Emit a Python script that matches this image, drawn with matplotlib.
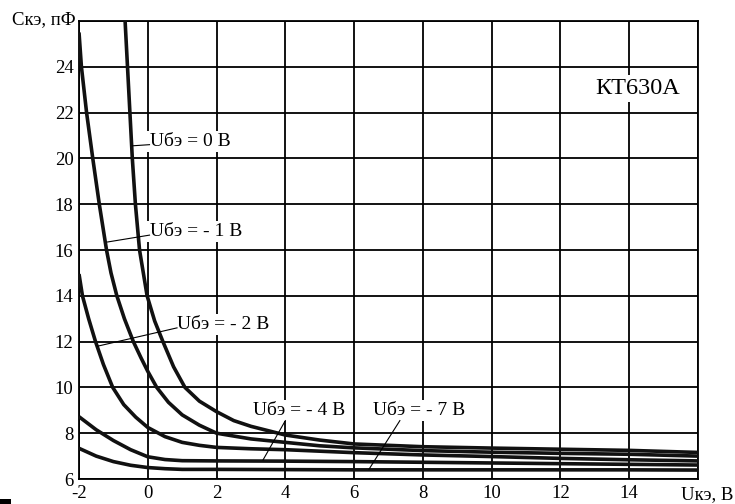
import matplotlib
matplotlib.use('Agg')
import matplotlib.pyplot as plt
from matplotlib.patches import Rectangle

plt.rcParams['font.family'] = ['Liberation Serif', 'DejaVu Serif']

# curves C_ke(U_ke) for different U_be
x_0 = [-0.66, -0.59, -0.52, -0.45, -0.36, -0.24, -0.13, -0.02, 0.2, 0.44, 0.75, 1.08,
       1.5, 2, 2.5, 3, 4, 5, 6, 8, 10, 12, 14, 16]
y_0 = [26, 24, 22, 20, 18, 16, 15, 14, 12.9, 12, 10.9, 10,
       9.4, 8.94, 8.55, 8.3, 7.92, 7.7, 7.53, 7.41, 7.35, 7.3, 7.25, 7.16]

x_1 = [-2, -1.93, -1.78, -1.6, -1.41, -1.2, -1.07, -0.9, -0.68, -0.42, -0.2, 0, 0.26,
       0.6, 1, 1.5, 2, 3, 4, 5, 6, 8, 10, 12, 14, 16]
y_1 = [25.5, 24, 22, 20, 18, 16, 15, 14, 13, 12, 11.3, 10.7, 10,
       9.35, 8.8, 8.35, 8.0, 7.75, 7.6, 7.45, 7.36, 7.24, 7.17, 7.12, 7.08, 7.0]

x_2 = [-2, -1.9, -1.72, -1.52, -1.29, -1.02, -0.7, -0.35, 0, 0.5, 1, 1.5, 2, 3, 4, 6,
       8, 10, 12, 14, 16]
y_2 = [14.95, 14, 13, 12, 11, 10, 9.25, 8.7, 8.25, 7.85, 7.6, 7.47, 7.38, 7.32, 7.28, 7.15,
       7.05, 6.98, 6.9, 6.84, 6.79]

x_4 = [-2, -1.5, -1, -0.5, 0, 0.5, 1, 2, 4, 6, 8, 10, 12, 14, 16]
y_4 = [8.72, 8.15, 7.68, 7.28, 6.97, 6.85, 6.8, 6.79, 6.78, 6.76, 6.73, 6.7, 6.67, 6.64, 6.61]

x_7 = [-2, -1.5, -1, -0.5, 0, 0.5, 1, 2, 4, 6, 8, 10, 12, 14, 16]
y_7 = [7.34, 7.0, 6.76, 6.6, 6.5, 6.45, 6.42, 6.42, 6.41, 6.4, 6.4, 6.4, 6.4, 6.4, 6.39]

curves = [(x_0, y_0), (x_1, y_1), (x_2, y_2), (x_4, y_4), (x_7, y_7)]

x_ticks = [-2, 0, 2, 4, 6, 8, 10, 12, 14]
y_ticks = [6, 8, 10, 12, 14, 16, 18, 20, 22, 24]

# label text, text position, leader end on the curve
labels = [
    ('Uбэ = 0 В', (0.05, 20.75), (-0.45, 20.55)),
    ('Uбэ = - 1 В', (0.05, 16.8), (-1.17, 16.35)),
    ('Uбэ = - 2 В', (0.85, 12.75), (-1.46, 11.8)),
    ('Uбэ = - 4 В', (3.05, 9.0), (3.35, 6.83)),
    ('Uбэ = - 7 В', (6.55, 9.0), (6.43, 6.42)),
]
leader_starts = [None, None, None, (4.0, 8.55), (7.33, 8.55)]

fig = plt.figure(figsize=(7.35, 5.04), dpi=100)
ax = fig.add_axes([0.1075, 0.0496, 0.9497 - 0.1075, 0.9583 - 0.0496])

ax.set_xlim(-2, 16)
ax.set_ylim(6, 26)
ax.set_xticks(range(-2, 17, 2))
ax.set_yticks(range(6, 27, 2))
ax.grid(True, color='black', linewidth=1.3, zorder=1)
ax.set_axisbelow(True)
for s in ax.spines.values():
    s.set_linewidth(1.3)
ax.tick_params(length=0, pad=4, labelsize=13.5)
ax.set_xticklabels([str(t) for t in x_ticks] + [''])
ax.set_yticklabels([str(t) for t in y_ticks] + [''])

for xs, ys in curves:
    ax.plot(xs, ys, color='#111111', linewidth=2.6, solid_joinstyle='round',
            solid_capstyle='butt', zorder=3, clip_on=True)

box = dict(facecolor='white', edgecolor='none', pad=1.5)
for (txt, tpos, end), start in zip(labels, leader_starts):
    ax.text(tpos[0], tpos[1], txt, fontsize=14, ha='left', va='center',
            bbox=box, zorder=4)
    if start is None:
        start = (tpos[0], tpos[1] - 0.15)
    ax.plot([start[0], end[0]], [start[1], end[1]], color='black',
            linewidth=0.8, zorder=4)

ax.text(14.25, 23.05, 'КТ630А', fontsize=17.5, ha='center', va='center',
        bbox=dict(facecolor='white', edgecolor='none', pad=2), zorder=4)

ax.text(-2.1, 26.05, 'Скэ, пФ', fontsize=13.5, ha='right', va='center')
ax.text(16.27, 5.3, 'Uкэ, В', fontsize=13.5, ha='center', va='center')

fig.patches.append(Rectangle((0, 0), 11 / 735, 5 / 504, transform=fig.transFigure,
                             facecolor='black', edgecolor='none'))

fig.savefig('out.png', dpi=100)
